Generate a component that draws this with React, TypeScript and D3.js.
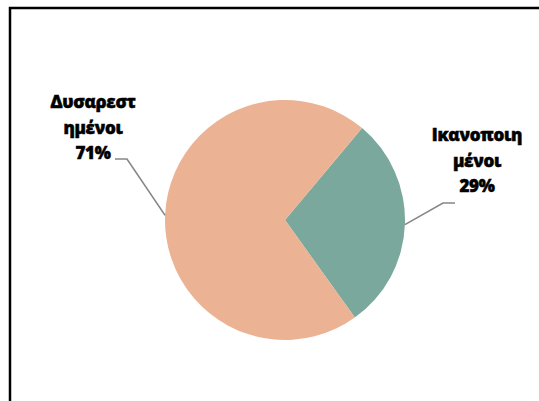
import React from "react";
import * as d3 from "d3";

const categories = ["Ικανοποιημένοι", "Δυσαρεστημένοι"];
const values = [29, 71];
const labelLines = [
  ["Ικανοποιη", "μένοι", "29%"],
  ["Δυσαρεστ", "ημένοι", "71%"],
];
const colors = ["#7ba89c", "#ebb393"];

const W = 539;
const H = 401;
const cx = 285;
const cy = 220;
const R = 120;
const startDeg = 40;

// label layout: anchor center x, first baseline, elbow & end of leader
const labelLayout = [
  { x: 477, y: 141, elbow: [443, 203], end: [455, 203] },
  { x: 93, y: 108, elbow: [127, 159], end: [115, 159] },
];

export default function App() {
  const pie = d3
    .pie<number>()
    .sort(null)
    .startAngle((startDeg * Math.PI) / 180)
    .endAngle((startDeg * Math.PI) / 180 + 2 * Math.PI);
  const arcs = pie(values);
  const arc = d3.arc<d3.PieArcDatum<number>>().innerRadius(0).outerRadius(R);

  return (
    <svg
      width={W}
      height={H}
      style={{ position: "absolute", left: 0, top: 0, background: "#fff" }}
    >
      <rect x={0} y={0} width={W} height={H} fill="#fff" />
      <rect x={10} y={8} width={700} height={600} fill="none" stroke="#000" strokeWidth={2.5} />
      <g transform={`translate(${cx},${cy})`}>
        {arcs.map((a, i) => (
          <path key={categories[i]} d={arc(a) || ""} fill={colors[i]} />
        ))}
      </g>
      {arcs.map((a, i) => {
        const mid = (a.startAngle + a.endAngle) / 2;
        const px = cx + R * Math.sin(mid);
        const py = cy - R * Math.cos(mid);
        const L = labelLayout[i];
        return (
          <g key={"lbl" + i}>
            <polyline
              points={`${px},${py} ${L.elbow[0]},${L.elbow[1]} ${L.end[0]},${L.end[1]}`}
              fill="none"
              stroke="#868686"
              strokeWidth={1.6}
            />
            <text
              textAnchor="middle"
              fontFamily="'Open Sans', 'Noto Sans', sans-serif"
              fontWeight={800}
              fontSize={17}
              letterSpacing={-0.3}
              fill="#000"
              stroke="#000"
              strokeWidth={0.5}
            >
              {labelLines[i].map((t, j) => (
                <tspan key={j} x={L.x} y={L.y + j * 25.5}>
                  {t}
                </tspan>
              ))}
            </text>
          </g>
        );
      })}
    </svg>
  );
}
